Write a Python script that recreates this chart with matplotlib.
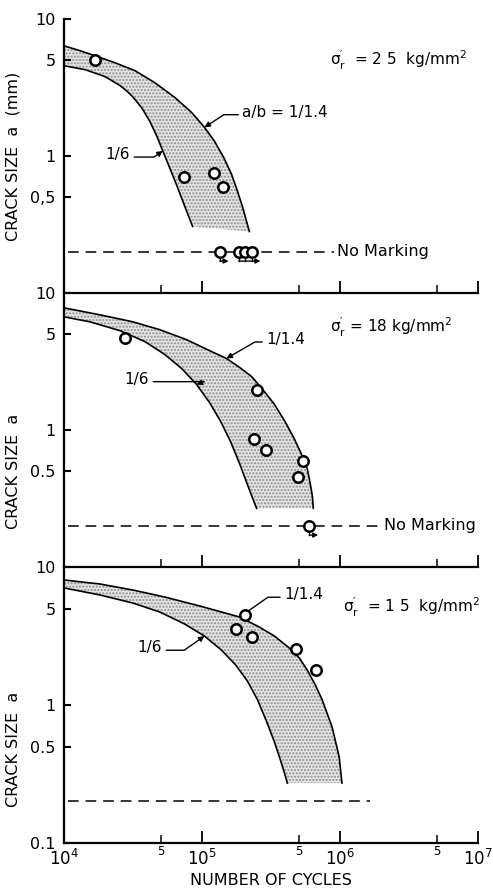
import matplotlib.pyplot as plt
from matplotlib.ticker import FixedLocator, FixedFormatter, NullLocator

plt.rcParams['font.family'] = ['DejaVu Sans']
plt.rcParams['mathtext.fontset'] = 'dejavusans'
plt.rcParams['mathtext.default'] = 'regular'
plt.rcParams['hatch.linewidth'] = 1.0

# sigma_r = 25 kg/mm2 : band limits (a/b = 1/1.4 and 1/6) and test points
n_up_25 = [1.0e4, 1.31e4, 1.67e4, 2.33e4, 3.26e4, 4.54e4, 6.33e4, 8.39e4, 1.04e5,
           1.23e5, 1.43e5, 1.63e5, 1.80e5, 1.96e5, 2.09e5, 2.20e5]
a_up_25 = [6.37, 5.86, 5.40, 4.80, 4.20, 3.43, 2.68, 2.08, 1.62,
           1.28, 0.98, 0.74, 0.557, 0.427, 0.338, 0.281]
n_lo_25 = [1.0e4, 1.42e4, 1.98e4, 2.54e4, 2.85e4, 3.15e4, 3.66e4, 4.18e4, 4.69e4, 5.19e4,
           5.82e4, 6.55e4, 7.48e4, 8.53e4]
a_lo_25 = [4.56, 4.27, 3.80, 3.27, 2.98, 2.70, 2.24, 1.79, 1.40, 1.09,
           0.82, 0.61, 0.43, 0.306]
n_pts_25 = [1.67e4, 7.4e4, 1.21e5, 1.41e5]
a_pts_25 = [5.04, 0.70, 0.75, 0.59]
runout_25 = [[1.34e5], [1.84e5, 2.06e5, 2.28e5]]

# sigma_r = 18 kg/mm2
n_up_18 = [1.0e4, 1.82e4, 3.15e4, 4.93e4, 7.73e4, 1.13e5, 1.50e5, 1.87e5, 2.28e5,
           2.74e5, 3.34e5, 4.01e5, 4.66e5, 5.23e5, 5.78e5, 6.07e5, 6.28e5, 6.39e5]
a_up_18 = [7.79, 6.93, 6.16, 5.40, 4.56, 3.80, 3.33, 2.86, 2.46,
           1.98, 1.54, 1.14, 0.86, 0.67, 0.52, 0.406, 0.333, 0.268]
n_lo_18 = [1.0e4, 1.54e4, 2.54e4, 3.85e4, 5.36e4, 7.11e4, 9.12e4, 1.13e5, 1.36e5,
           1.61e5, 1.87e5, 2.09e5, 2.28e5, 2.48e5]
a_lo_18 = [6.70, 6.16, 5.31, 4.42, 3.56, 2.81, 2.15, 1.59, 1.16,
           0.82, 0.567, 0.42, 0.333, 0.268]
n_pts_18 = [2.76e4, 2.51e5, 2.39e5, 2.92e5, 5.41e5, 4.98e5]
a_pts_18 = [4.72, 1.95, 0.86, 0.716, 0.596, 0.456]
runout_18 = [[5.97e5]]

# sigma_r = 15 kg/mm2
n_up_15 = [1.0e4, 1.82e4, 3.15e4, 5.36e4, 9.59e4, 1.87e5, 2.60e5, 3.34e5, 4.28e5,
           5.06e5, 5.78e5, 6.60e5, 7.41e5, 8.75e5, 9.84e5, 1.03e6]
a_up_15 = [8.05, 7.53, 6.81, 6.06, 5.22, 4.34, 3.67, 3.16, 2.59,
           2.19, 1.79, 1.40, 1.09, 0.69, 0.42, 0.272]
n_lo_15 = [1.0e4, 1.82e4, 3.15e4, 4.93e4, 7.48e4, 1.04e5, 1.38e5, 1.75e5, 2.13e5,
           2.52e5, 2.92e5, 3.34e5, 3.69e5, 4.01e5, 4.14e5]
a_lo_15 = [7.05, 6.27, 5.48, 4.72, 3.86, 3.16, 2.50, 1.95, 1.49,
           1.09, 0.766, 0.54, 0.40, 0.306, 0.272]
n_pts_15 = [1.77e5, 2.03e5, 2.28e5, 4.81e5, 6.71e5]
a_pts_15 = [3.56, 4.49, 3.11, 2.55, 1.79]
runout_15 = []

no_marking_a = 0.2
runout_drop = 0.171

x_ticks = [1e4, 1e5, 1e6, 1e7]
x_labels = ['$10^4$', '$10^5$', '$10^6$', '$10^7$']
x_minor = [5e4, 5e5, 5e6]

panels = [
    dict(up=(n_up_25, a_up_25), lo=(n_lo_25, a_lo_25), pts=(n_pts_25, a_pts_25),
         runout=runout_25, stress="$\\sigma_r'$  = 2 5  kg/mm$^2$",
         ylabel='CRACK SIZE  a  (mm)', ylabpos=0.50,
         yticks=[0.5, 1, 5, 10], ylabels=['0,5', '1', '5', '10'],
         up_text='a/b = 1/1.4', up_idx=8, up_xy=(1.96e5, 2.08), up_ang=33,
         lo_idx=9, lo_xy=(2.45e4, 1.02), lo_ang=35,
         dash_end=0.652, marking=True, stress_pos=(0.643, 0.85), box=(0, 0.6704, 0.3082)),
    dict(up=(n_up_18, a_up_18), lo=(n_lo_18, a_lo_18), pts=(n_pts_18, a_pts_18),
         runout=runout_18, stress="$\\sigma_r'$ = 18 kg/mm$^2$",
         ylabel='CRACK SIZE  a', ylabpos=0.35,
         yticks=[0.5, 1, 5, 10], ylabels=['0.5', '1', '5', '10'],
         up_text='1/1.4', up_idx=6, up_xy=(2.92e5, 4.56), up_ang=30,
         lo_idx=6, lo_xy=(3.37e4, 2.34), lo_ang=20,
         dash_end=0.766, marking=True, stress_pos=(0.643, 0.876), box=(0, 0.3622, 0.3082)),
    dict(up=(n_up_15, a_up_15), lo=(n_lo_15, a_lo_15), pts=(n_pts_15, a_pts_15),
         runout=runout_15, stress="$\\sigma_r'$  = 1 5  kg/mm$^2$",
         ylabel='CRACK SIZE  a', ylabpos=0.34,
         yticks=[0.1, 0.5, 1, 5, 10], ylabels=['0.1', '0.5', '1', '5', '10'],
         up_text='1/1.4', up_idx=5, up_xy=(3.94e5, 6.27), up_ang=35,
         lo_idx=5, lo_xy=(4.18e4, 2.59), lo_ang=35,
         dash_end=0.739, marking=False, stress_pos=(0.674, 0.855), box=(0, 0.0517, 0.3105)),
]

fig = plt.figure(figsize=(4.93, 8.89), dpi=100)
arrow_kw = dict(arrowstyle='-|>', color='black', lw=1.0, mutation_scale=8, shrinkA=1, shrinkB=0)

for i, p in enumerate(panels):
    _, bottom, height = p['box']
    ax = fig.add_axes([0.130, bottom, 0.840, height])
    ax.set_xscale('log')
    ax.set_yscale('log')
    ax.set_xlim(1e4, 1e7)
    ax.set_ylim(0.1, 10)
    ax.patch.set_alpha(0)
    for s in ['top', 'right']:
        ax.spines[s].set_visible(False)
    for s in ['left', 'bottom']:
        ax.spines[s].set_linewidth(1.6)

    nu, au = p['up']
    nl, al = p['lo']
    # shaded band between the two aspect-ratio curves
    ax.fill(list(nu) + nl[::-1], list(au) + al[::-1], facecolor='#e4e4e4',
            edgecolor='#8c8c8c', hatch='.....', linewidth=0, zorder=1)
    ax.plot(nu, au, color='black', lw=1.2, zorder=3)
    ax.plot(nl, al, color='black', lw=1.2, zorder=3)

    # no-marking level
    ax.axhline(no_marking_a, xmin=0.01, xmax=p['dash_end'], color='black', lw=1.1,
               dashes=(7, 4.5), zorder=2)
    if p['marking']:
        ax.text(10 ** (4 + 3 * (p['dash_end'] + 0.006)), no_marking_a, 'No Marking',
                fontsize=11.5, va='center', ha='left')

    # run-out specimens
    for grp in p['runout']:
        for n in grp:
            ax.plot([n, n], [no_marking_a, runout_drop], color='black', lw=1.0, zorder=4)
        ax.annotate('', xy=(grp[-1] * 1.16, runout_drop), xytext=(grp[0], runout_drop),
                    arrowprops=dict(arrowstyle='-|>', color='black', lw=1.0,
                                    mutation_scale=7, shrinkA=0, shrinkB=0))
        ax.plot(grp, [no_marking_a] * len(grp), 'o', ms=7.5, mfc='white', mec='black',
                mew=1.8, zorder=5)

    ax.plot(*p['pts'], 'o', ms=7.5, mfc='white', mec='black', mew=1.8, zorder=5)

    # curve labels with leaders
    ax.annotate(p['up_text'], xy=(nu[p['up_idx']], au[p['up_idx']]), xytext=p['up_xy'],
                fontsize=11, ha='left', va='center',
                arrowprops=dict(arrow_kw, relpos=(0, 0.35),
                                connectionstyle='angle,angleA=0,angleB=%d,rad=0' % p['up_ang']))
    ax.annotate('1/6', xy=(nl[p['lo_idx']], al[p['lo_idx']]), xytext=p['lo_xy'],
                fontsize=11, ha='center', va='center',
                arrowprops=dict(arrow_kw, relpos=(1, 0.35),
                                connectionstyle='angle,angleA=0,angleB=%d,rad=0' % p['lo_ang']))

    ax.text(*p['stress_pos'], p['stress'], transform=ax.transAxes, fontsize=11,
            ha='left', va='center')

    ax.yaxis.set_major_locator(FixedLocator(p['yticks']))
    ax.yaxis.set_major_formatter(FixedFormatter(p['ylabels']))
    ax.yaxis.set_minor_locator(NullLocator())
    ax.tick_params(axis='y', which='major', direction='in', length=5, width=1.5,
                   labelsize=11.5, pad=6)
    ax.set_ylabel(p['ylabel'], fontsize=11.5)
    ax.yaxis.set_label_coords(-0.105, p['ylabpos'])

    ax.xaxis.set_major_locator(FixedLocator(x_ticks))
    ax.xaxis.set_minor_locator(FixedLocator(x_minor))
    ax.tick_params(axis='x', which='major', direction='in', length=9, width=1.3)
    ax.tick_params(axis='x', which='minor', direction='in', length=6, width=1.1)
    if i == len(panels) - 1:
        ax.xaxis.set_major_formatter(FixedFormatter(x_labels))
        ax.xaxis.set_minor_formatter(FixedFormatter(['5', '5', '5']))
        ax.tick_params(axis='x', which='major', labelsize=12, pad=4)
        ax.tick_params(axis='x', which='minor', labelsize=8.5, pad=1.5)
        ax.set_xlabel('NUMBER OF CYCLES', fontsize=11.5, labelpad=3)
    else:
        ax.tick_params(axis='x', which='both', labelbottom=False)

fig.savefig('out.png', dpi=100)
